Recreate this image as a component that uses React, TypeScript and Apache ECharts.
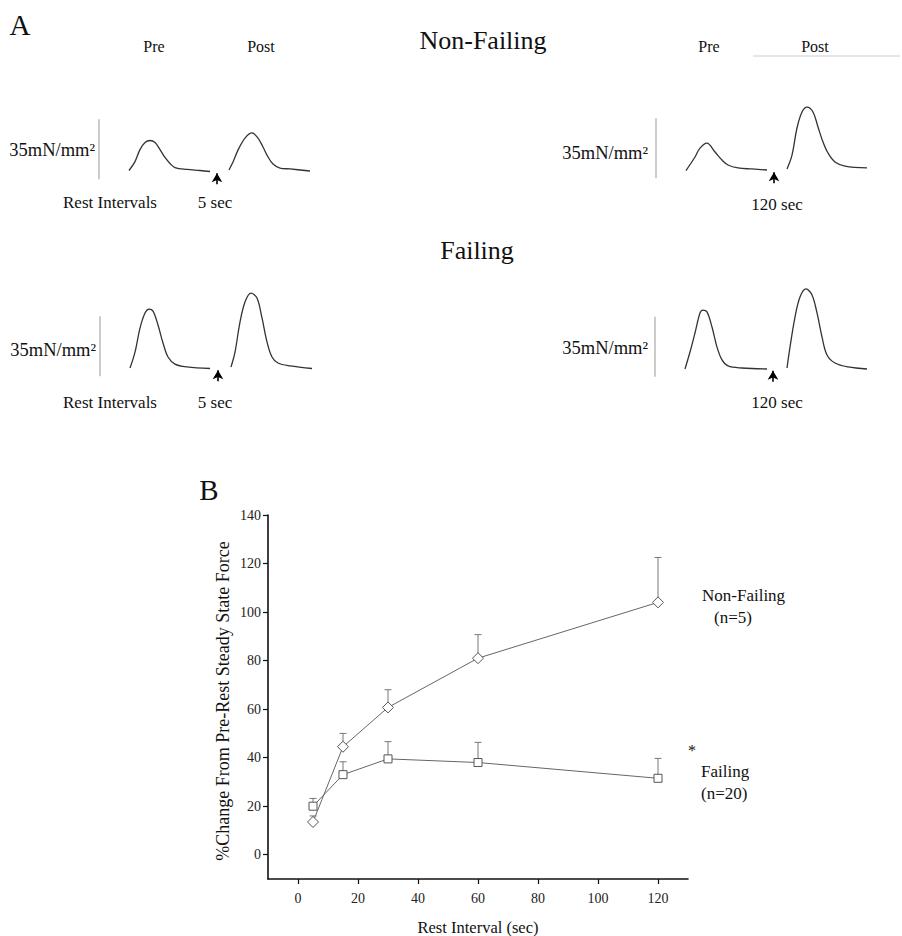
import React, { useEffect, useRef } from 'react';
import * as echarts from 'echarts';

// ---------- Panel B data ----------
const REST_INTERVALS = [5, 15, 30, 60, 120];
const NF_MEAN = [13.5, 44.5, 60.7, 81, 104];
const NF_UPPER = [16, 50, 68, 90.7, 122.5];
const F_MEAN = [20, 33, 39.5, 38, 31.5];
const F_UPPER = [23.2, 38.3, 46.6, 46.3, 39.7];
const Y_TICKS = [0, 20, 40, 60, 80, 100, 120, 140];
const X_TICKS = [0, 20, 40, 60, 80, 100, 120];

// ---------- Panel A traces (time ms, force mN/mm^2 above baseline) ----------
const NF5_PRE_T = [0, 60, 110, 160, 210, 260, 310, 360, 410, 460, 580, 710, 810];
const NF5_PRE_F = [0.6, 5.8, 12.8, 16.9, 18.1, 16.9, 12.8, 8.2, 4.7, 2.3, 1.2, 0.6, 0];
const NF5_POST_T = [0, 40, 90, 160, 230, 290, 340, 390, 440, 510, 610, 810];
const NF5_POST_F = [0.9, 5.5, 12.5, 19.5, 22.5, 19.5, 14.3, 8.5, 4.4, 2.0, 1.5, 0.3];

const NF120_PRE_T = [0, 90, 140, 210, 290, 360, 420, 520, 660, 810];
const NF120_PRE_F = [0, 7.9, 13.1, 16.0, 10.8, 6.1, 3.2, 1.5, 0.9, 0.3];
const NF120_POST_T = [0, 50, 100, 150, 200, 260, 310, 360, 410, 480, 580, 800];
const NF120_POST_F = [0.9, 9.0, 24.8, 34.1, 37.0, 34.1, 25.4, 16.6, 10.2, 5.0, 2.6, 1.5];

const F5_PRE_T = [0, 50, 100, 150, 190, 230, 280, 330, 380, 450, 570, 800];
const F5_PRE_F = [0.3, 9.6, 23.6, 32.4, 34.7, 33.5, 25.4, 14.9, 6.7, 2.6, 0.9, 0];
const F5_POST_T = [0, 40, 90, 140, 200, 260, 310, 360, 410, 470, 590, 810];
const F5_POST_F = [0.9, 9.6, 27.1, 38.8, 44.0, 41.1, 29.5, 15.5, 6.7, 3.2, 1.5, 0];

const F120_PRE_T = [0, 50, 100, 150, 180, 220, 270, 320, 370, 430, 570, 820];
const F120_PRE_F = [0, 9.9, 21.0, 32.7, 34.4, 33.3, 24.5, 12.8, 5.3, 1.8, 0.6, 0];
const F120_POST_T = [0, 30, 80, 130, 190, 250, 300, 350, 400, 480, 610, 800];
const F120_POST_F = [0.6, 12.8, 30.3, 42.0, 46.7, 43.2, 32.7, 18.7, 8.2, 3.5, 1.2, 0];

const POST_STARTS = [1000, 1010, 1010, 1020];
const ARROW_T = 880;
const SCALE_BAR = [-4.5, 30.5]; // 35 mN/mm^2
const SCALE_T = -300;

const SERIF = "'Liberation Serif', 'Times New Roman', serif";

const zip = (a: number[], b: number[], off = 0) => a.map((v, i) => [v + off, b[i]]);

export default function App() {
  const ref = useRef<HTMLDivElement>(null);
  useEffect(() => {
    document.body.style.margin = '0';
    const chart = echarts.init(ref.current!, null, { renderer: 'svg' });

    const panels = [
      { left: 99, top: 85.8, pre: [NF5_PRE_T, NF5_PRE_F], post: [NF5_POST_T, NF5_POST_F] },
      { left: 656, top: 84.8, pre: [NF120_PRE_T, NF120_PRE_F], post: [NF120_POST_T, NF120_POST_F] },
      { left: 100, top: 282.8, pre: [F5_PRE_T, F5_PRE_F], post: [F5_POST_T, F5_POST_F] },
      { left: 655, top: 283.3, pre: [F120_PRE_T, F120_PRE_F], post: [F120_POST_T, F120_POST_F] },
    ];

    const grids: any[] = [];
    const xAxes: any[] = [];
    const yAxes: any[] = [];
    const series: any[] = [];

    panels.forEach((p, i) => {
      grids.push({ left: p.left, top: p.top, width: 220, height: 102.86, outerBoundsMode: 'none' });
      xAxes.push({ type: 'value', gridIndex: i, min: -300, max: 1900, show: false });
      yAxes.push({ type: 'value', gridIndex: i, min: -10, max: 50, show: false });
      const traceStyle = { color: '#333', width: 1.3 };
      series.push({
        type: 'line', xAxisIndex: i, yAxisIndex: i, data: zip(p.pre[0], p.pre[1]),
        symbol: 'none', smooth: 0.35, lineStyle: traceStyle,
        markLine: {
          silent: true, symbol: ['none', 'arrow'], symbolSize: [8, 9],
          label: { show: false },
          lineStyle: { color: '#000', type: 'solid', width: 1.6 },
          data: [[{ coord: [ARROW_T, -7.5] }, { coord: [ARROW_T, -1] }]],
        },
      });
      series.push({
        type: 'line', xAxisIndex: i, yAxisIndex: i, data: zip(p.post[0], p.post[1], POST_STARTS[i]),
        symbol: 'none', smooth: 0.35, lineStyle: traceStyle,
      });
      series.push({
        type: 'line', xAxisIndex: i, yAxisIndex: i,
        data: [[SCALE_T, SCALE_BAR[0]], [SCALE_T, SCALE_BAR[1]]],
        symbol: 'none', lineStyle: { color: '#999', width: 1 },
      });
    });

    // Panel B
    const bi = 4;
    grids.push({ left: 268, top: 515, width: 420, height: 364, outerBoundsMode: 'none' });
    const axisCommon = {
      axisLine: { show: true, onZero: false, lineStyle: { color: '#111', width: 1.6 } },
      splitLine: { show: false },
    };
    xAxes.push({
      type: 'value', gridIndex: bi, min: -10, max: 130, ...axisCommon,
      axisTick: { show: true, length: 5, customValues: X_TICKS, lineStyle: { color: '#111', width: 1.2 } },
      axisLabel: { customValues: X_TICKS, margin: 12, color: '#222', fontSize: 14, fontFamily: SERIF },
    });
    yAxes.push({
      type: 'value', gridIndex: bi, min: -10, max: 140, ...axisCommon,
      axisTick: { show: true, length: 5, customValues: Y_TICKS, lineStyle: { color: '#111', width: 1.2 } },
      axisLabel: { customValues: Y_TICKS, margin: 7, color: '#222', fontSize: 14, fontFamily: SERIF },
    });

    const errRender = (params: any, api: any) => {
      const x = api.value(0), y = api.value(1), top = api.value(2);
      const p0 = api.coord([x, y]);
      const p1 = api.coord([x, top]);
      const st = { stroke: '#777', lineWidth: 1 };
      return {
        type: 'group',
        children: [
          { type: 'line', shape: { x1: p0[0], y1: p0[1], x2: p1[0], y2: p1[1] }, style: st },
          { type: 'line', shape: { x1: p1[0] - 3.5, y1: p1[1], x2: p1[0] + 3.5, y2: p1[1] }, style: st },
        ],
      };
    };
    series.push({
      type: 'custom', xAxisIndex: bi, yAxisIndex: bi, z: 1,
      data: REST_INTERVALS.map((x, i) => [x, NF_MEAN[i], NF_UPPER[i]]),
      encode: { x: 0, y: [1, 2] }, renderItem: errRender,
    });
    series.push({
      type: 'custom', xAxisIndex: bi, yAxisIndex: bi, z: 1,
      data: REST_INTERVALS.map((x, i) => [x, F_MEAN[i], F_UPPER[i]]),
      encode: { x: 0, y: [1, 2] }, renderItem: errRender,
    });
    series.push({
      type: 'line', name: 'Non-Failing (n=5)', xAxisIndex: bi, yAxisIndex: bi, z: 3,
      data: zip(REST_INTERVALS, NF_MEAN), symbol: 'diamond', symbolSize: 11,
      lineStyle: { color: '#666', width: 1 },
      itemStyle: { color: '#fff', borderColor: '#555', borderWidth: 1 },
    });
    series.push({
      type: 'line', name: 'Failing (n=20)', xAxisIndex: bi, yAxisIndex: bi, z: 3,
      data: zip(REST_INTERVALS, F_MEAN), symbol: 'rect', symbolSize: 8,
      lineStyle: { color: '#666', width: 1 },
      itemStyle: { color: '#fff', borderColor: '#555', borderWidth: 1 },
    });

    const txt = (text: string, x: number, y: number, size = 16, align = 'center', extra: any = {}) => ({
      type: 'text', x, y, ...extra,
      style: { text, fill: '#111', font: `${size}px ${SERIF}`, textAlign: align, textVerticalAlign: 'middle' },
    });

    const graphic = [
      txt('A', 20, 25, 29),
      txt('Pre', 154, 46, 16),
      txt('Post', 261, 46, 16),
      txt('Non-Failing', 483, 40, 26),
      txt('Pre', 709, 46, 16),
      txt('Post', 815, 46, 16),
      { type: 'line', shape: { x1: 753, y1: 56, x2: 900, y2: 56 }, style: { stroke: '#ccc', lineWidth: 1 } },
      txt('35mN/mm²', 95, 150, 18.5, 'right'),
      txt('35mN/mm²', 648, 153, 18.5, 'right'),
      txt('Rest Intervals', 110, 202, 17),
      txt('5 sec', 215, 202, 17),
      txt('120 sec', 777, 204, 17),
      txt('Failing', 477, 250, 26),
      txt('35mN/mm²', 96, 350, 18.5, 'right'),
      txt('35mN/mm²', 648, 348, 18.5, 'right'),
      txt('Rest Intervals', 110, 402, 17),
      txt('5 sec', 215, 402, 17),
      txt('120 sec', 777, 402, 17),
      txt('B', 209, 490, 29),
      txt('Non-Failing', 702, 595, 17, 'left'),
      txt('(n=5)', 714, 617, 17, 'left'),
      txt('Failing', 701, 771, 17, 'left'),
      txt('(n=20)', 701, 793, 17, 'left'),
      txt('*', 692, 750, 16),
      txt('%Change From Pre-Rest Steady State Force', 223, 701, 18, 'center', { rotation: Math.PI / 2 }),
      txt('Rest Interval (sec)', 478, 927, 16.5),
    ];

    chart.setOption({
      animation: false,
      backgroundColor: '#fff',
      grid: grids,
      xAxis: xAxes,
      yAxis: yAxes,
      series,
      graphic,
    });
    return () => chart.dispose();
  }, []);
  return <div ref={ref} style={{ width: 902, height: 936 }} />;
}
